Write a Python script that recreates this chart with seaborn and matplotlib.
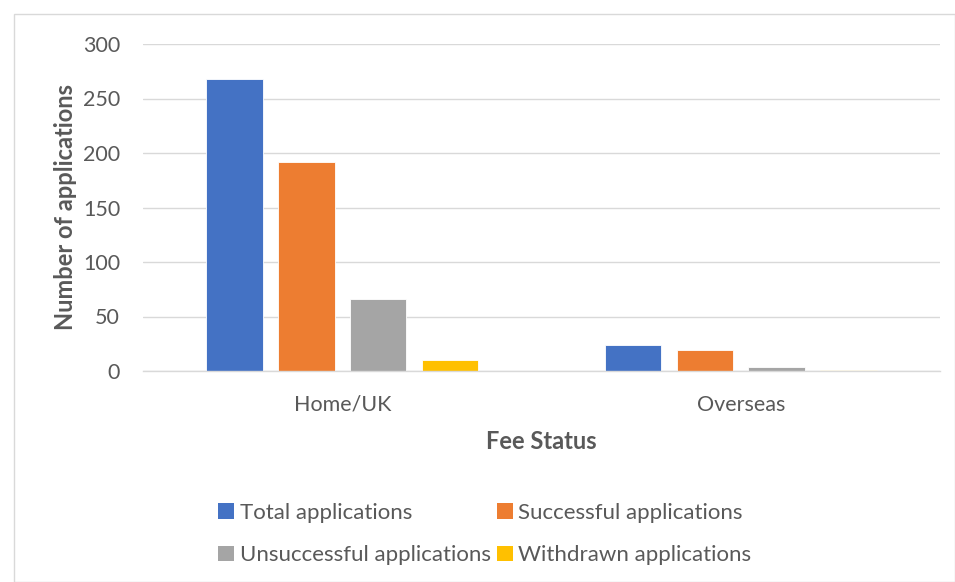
import matplotlib
matplotlib.use("Agg")
import matplotlib.pyplot as plt
import seaborn as sns
import pandas as pd
from matplotlib.patches import Rectangle, Patch

categories = ["Home/UK", "Overseas"]
series = ["Total applications", "Successful applications",
          "Unsuccessful applications", "Withdrawn applications"]
total = [268, 24]
successful = [192, 19]
unsuccessful = [66, 4]
withdrawn = [10, 1]
yticks = [0, 50, 100, 150, 200, 250, 300]
colors = ["#4472C4", "#ED7D31", "#A5A5A5", "#FFC000"]

rows = []
for s, vals in zip(series, [total, successful, unsuccessful, withdrawn]):
    for c, v in zip(categories, vals):
        rows.append({"Fee Status": c, "Series": s, "Value": v})
df = pd.DataFrame(rows)

sns.set_theme(style="white")
plt.rcParams['font.family'] = ['Lato', 'DejaVu Sans']
txt = "#595959"

fig = plt.figure(figsize=(9.55, 5.82), dpi=100)
ax = fig.add_axes([143/955, 1-371/582, 797/955, 327/582])

sns.barplot(data=df, x="Fee Status", y="Value", hue="Series",
            hue_order=series, order=categories, palette=colors,
            saturation=1, width=0.72, gap=0.21, ax=ax, legend=False,
            edgecolor="white", linewidth=0.6)

ax.set_xlim(-0.5, 1.5)
ax.set_ylim(0, 300)
ax.set_yticks(yticks)
ax.set_yticklabels([str(t) for t in yticks])
ax.yaxis.grid(True, color="#D9D9D9", linewidth=1)
ax.set_axisbelow(True)
for sp in ["top", "right", "left"]:
    ax.spines[sp].set_visible(False)
ax.spines["bottom"].set_color("#D9D9D9")
ax.spines["bottom"].set_linewidth(1)
ax.tick_params(axis="both", length=0, colors=txt, labelsize=15.5)
ax.tick_params(axis="y", pad=16.5)
ax.tick_params(axis="x", pad=17)
ax.set_xlabel("Fee Status", fontsize=17, fontweight="bold", color=txt, labelpad=11)
ax.set_ylabel("Number of applications", fontsize=17, fontweight="bold", color=txt, labelpad=4)

# outer border
fig.patches.append(Rectangle((14/955, 0), 1 - 14/955, 1 - 14/582,
                             transform=fig.transFigure, fill=False,
                             edgecolor="#D9D9D9", linewidth=1))

order = [0, 2, 1, 3]
handles = [Patch(facecolor=colors[i], edgecolor="none") for i in order]
labels = [series[i] for i in order]
leg = fig.legend(handles, labels, loc="center", bbox_to_anchor=(485/955, 1-534/582),
                 ncol=2, frameon=False, fontsize=16, handlelength=0.7,
                 handleheight=0.7, handletextpad=0.25, columnspacing=0.3,
                 labelspacing=1.0)
for t in leg.get_texts():
    t.set_color(txt)

fig.savefig("out.png", dpi=100)
